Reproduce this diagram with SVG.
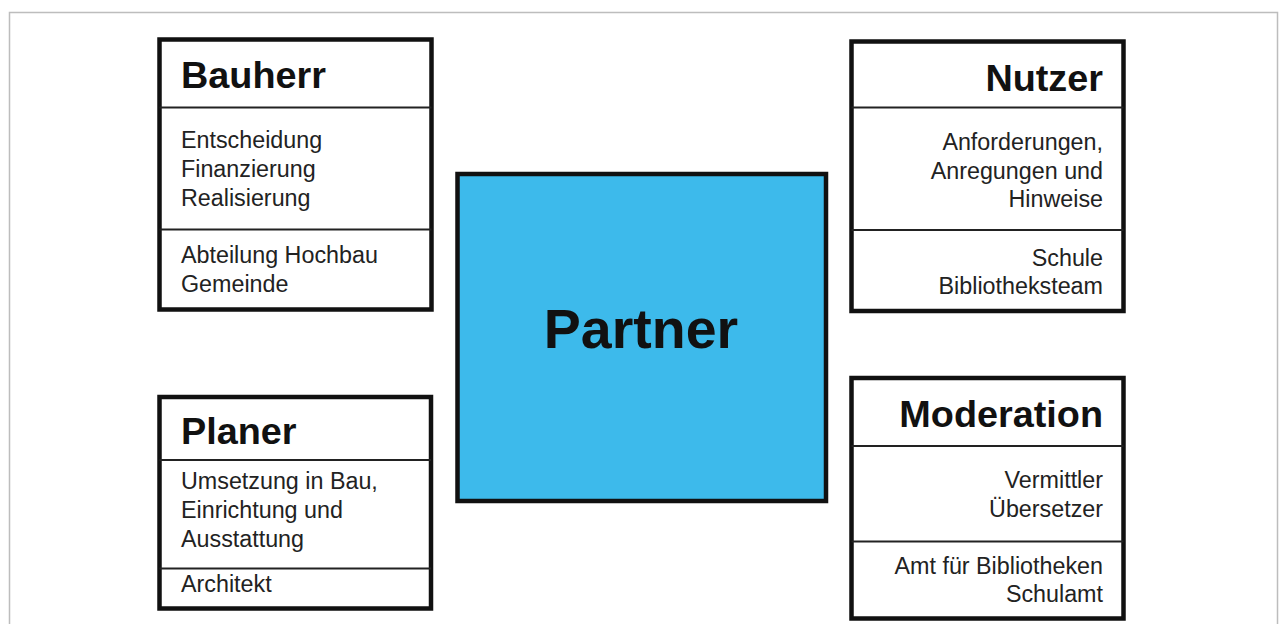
<svg xmlns="http://www.w3.org/2000/svg" width="1283" height="624" viewBox="0 0 1283 624">
<style>
.frame{fill:none;stroke:#bdbdbd;stroke-width:1.5}
.box{fill:#fff;stroke:#111;stroke-width:4.5}
.div{stroke:#222;stroke-width:2}
.t{font-family:"Liberation Sans",Arial,sans-serif;font-weight:bold;font-size:37.8px;fill:#111}
.b{font-family:"Liberation Sans",Arial,sans-serif;font-size:23.3px;fill:#222}
.r{text-anchor:end}
</style>
<rect x="0" y="0" width="1283" height="624" fill="#fff"/>
<rect class="frame" x="9.5" y="12.5" width="1268" height="620"/>
<g id="bauherr">
<rect class="box" x="159.5" y="39.5" width="272" height="270"/>
<line class="div" x1="159.5" y1="107.5" x2="431.5" y2="107.5"/>
<line class="div" x1="159.5" y1="229.5" x2="431.5" y2="229.5"/>
<text class="t" x="181" y="88">Bauherr</text>
<text class="b" x="181" y="148">Entscheidung</text>
<text class="b" x="181" y="177">Finanzierung</text>
<text class="b" x="181" y="206">Realisierung</text>
<text class="b" x="181" y="263">Abteilung Hochbau</text>
<text class="b" x="181" y="292">Gemeinde</text>
</g>
<g id="nutzer">
<rect class="box" x="851.5" y="41.5" width="272" height="269.5"/>
<line class="div" x1="851.5" y1="107.5" x2="1123.5" y2="107.5"/>
<line class="div" x1="851.5" y1="230" x2="1123.5" y2="230"/>
<text class="t r" x="1103" y="91">Nutzer</text>
<text class="b r" x="1103" y="150">Anforderungen,</text>
<text class="b r" x="1103" y="179">Anregungen und</text>
<text class="b r" x="1103" y="207">Hinweise</text>
<text class="b r" x="1103" y="266">Schule</text>
<text class="b r" x="1103" y="294">Bibliotheksteam</text>
</g>
<g id="partner">
<rect x="457.5" y="174" width="368.5" height="327" fill="#3dbaeb" stroke="#111" stroke-width="4.5"/>
<text x="641" y="348" text-anchor="middle" font-family="'Liberation Sans',Arial,sans-serif" font-weight="bold" font-size="55.5" fill="#111">Partner</text>
</g>
<g id="planer">
<rect class="box" x="159.5" y="397" width="271.5" height="211.5"/>
<line class="div" x1="159.5" y1="460" x2="431" y2="460"/>
<line class="div" x1="159.5" y1="568.5" x2="431" y2="568.5"/>
<text class="t" x="181" y="444">Planer</text>
<text class="b" x="181" y="489">Umsetzung in Bau,</text>
<text class="b" x="181" y="518">Einrichtung und</text>
<text class="b" x="181" y="547">Ausstattung</text>
<text class="b" x="181" y="592">Architekt</text>
</g>
<g id="moderation">
<rect class="box" x="851.5" y="378" width="272" height="240.5"/>
<line class="div" x1="851.5" y1="446" x2="1123.5" y2="446"/>
<line class="div" x1="851.5" y1="541.5" x2="1123.5" y2="541.5"/>
<text class="t r" x="1103" y="427">Moderation</text>
<text class="b r" x="1103" y="488">Vermittler</text>
<text class="b r" x="1103" y="517">Übersetzer</text>
<text class="b r" x="1103" y="574">Amt für Bibliotheken</text>
<text class="b r" x="1103" y="602">Schulamt</text>
</g>
<g id="connectors"></g>
</svg>
